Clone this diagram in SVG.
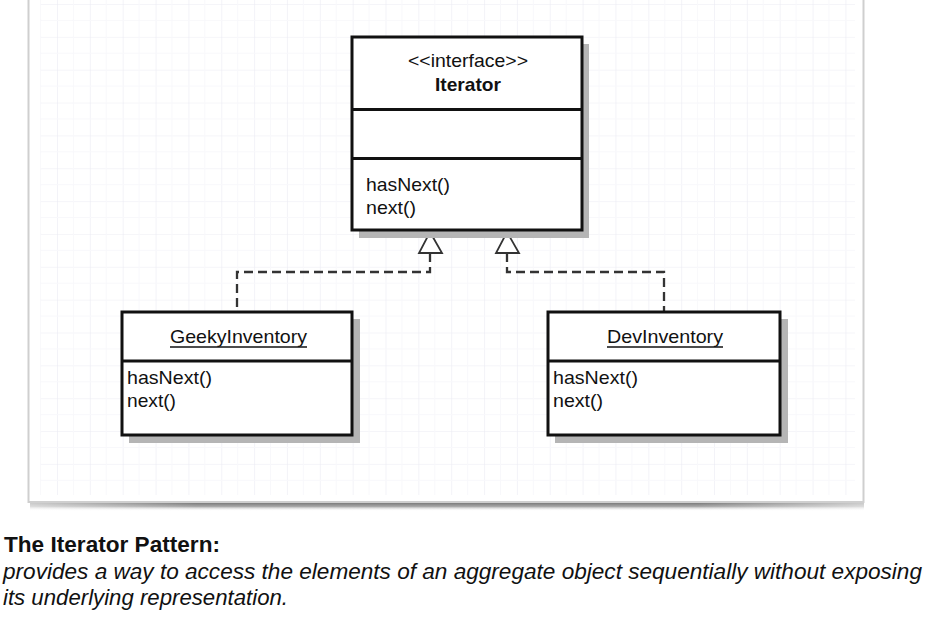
<svg xmlns="http://www.w3.org/2000/svg" width="932" height="624" viewBox="0 0 932 624">
  <defs>
    <style>
      .t { font-family: "Liberation Sans", Arial, sans-serif; font-size: 18.5px; fill: #111; }
      .b { font-weight: bold; }
      .box { fill: #fff; stroke: #111; stroke-width: 3; }
      .div { stroke: #111; stroke-width: 3; }
      .shadow { fill: #b5b5b5; }
      .dash { fill: none; stroke: #333; stroke-width: 2.3; stroke-dasharray: 9 5; }
      .tri { fill: #fff; stroke: #333; stroke-width: 1.8; stroke-linejoin: miter; }
      .cap { font-family: "Liberation Sans", Arial, sans-serif; font-size: 21.5px; fill: #111; }
    </style>
    <pattern id="grid" x="57" y="4" width="32.85" height="32.85" patternUnits="userSpaceOnUse">
      <path d="M0 0 V32.85 M0 0 H32.85" fill="none" stroke="#ececf3" stroke-width="1.2"/>
      <path d="M16.4 0 V32.85 M0 16.4 H32.85" fill="none" stroke="#f8f8fb" stroke-width="1"/>
    </pattern>
    <linearGradient id="sh" x1="0" y1="0" x2="0" y2="1">
      <stop offset="0" stop-color="#6f6f6f"/>
      <stop offset="0.5" stop-color="#a8a8a8"/>
      <stop offset="1" stop-color="#ffffff" stop-opacity="0"/>
    </linearGradient>
    <linearGradient id="shh" x1="0" y1="0" x2="1" y2="0">
      <stop offset="0" stop-color="#fff" stop-opacity="0.6"/>
      <stop offset="0.2" stop-color="#fff" stop-opacity="0"/>
      <stop offset="0.8" stop-color="#fff" stop-opacity="0"/>
      <stop offset="1" stop-color="#fff" stop-opacity="0.6"/>
    </linearGradient>
  </defs>

  <rect x="0" y="0" width="932" height="624" fill="#fff"/>

  <!-- panel -->
  <g id="panel">
    <rect x="30" y="502" width="834" height="9" fill="url(#sh)"/>
    <rect x="30" y="502" width="834" height="9" fill="url(#shh)"/>
    <rect x="28.5" y="-5" width="835" height="507" fill="#fff" stroke="#cfcfcf" stroke-width="2"/>
    <rect x="40" y="0" width="815" height="495" fill="url(#grid)"/>
  </g>

  <!-- connectors -->
  <g id="connectors">
    <path class="dash" d="M430 253 V272 H237 V311"/>
    <path class="dash" d="M507 253 V272 H664 V311"/>
    <polygon class="tri" points="430,232 442,253 419,253"/>
    <polygon class="tri" points="507,232 519,253 496,253"/>
  </g>

  <!-- Iterator -->
  <g id="iterator">
    <rect class="shadow" x="359" y="44" width="230" height="194"/>
    <rect class="box" x="352" y="37" width="230" height="193"/>
    <line class="div" x1="352" y1="109.5" x2="582" y2="109.5"/>
    <line class="div" x1="352" y1="158.5" x2="582" y2="158.5"/>
    <text class="t" x="468" y="67" text-anchor="middle" textLength="120" lengthAdjust="spacingAndGlyphs">&lt;&lt;interface&gt;&gt;</text>
    <text class="t b" x="468" y="91" text-anchor="middle" textLength="66" lengthAdjust="spacingAndGlyphs">Iterator</text>
    <text class="t" x="366" y="191" textLength="84" lengthAdjust="spacingAndGlyphs">hasNext()</text>
    <text class="t" x="366" y="214" textLength="50" lengthAdjust="spacingAndGlyphs">next()</text>
  </g>

  <!-- GeekyInventory -->
  <g id="geeky">
    <rect class="shadow" x="129" y="319" width="231" height="124"/>
    <rect class="box" x="122" y="312" width="230" height="123"/>
    <line class="div" x1="122" y1="361" x2="352" y2="361"/>
    <text class="t" x="170" y="343" textLength="137" lengthAdjust="spacingAndGlyphs">GeekyInventory</text>
    <line x1="170" y1="347" x2="307" y2="347" stroke="#111" stroke-width="1.3"/>
    <text class="t" x="127" y="384" textLength="85" lengthAdjust="spacingAndGlyphs">hasNext()</text>
    <text class="t" x="127" y="407" textLength="49" lengthAdjust="spacingAndGlyphs">next()</text>
  </g>

  <!-- DevInventory -->
  <g id="dev">
    <rect class="shadow" x="555" y="319" width="233" height="124"/>
    <rect class="box" x="548" y="312" width="232" height="123"/>
    <line class="div" x1="548" y1="361" x2="780" y2="361"/>
    <text class="t" x="607" y="343" textLength="116" lengthAdjust="spacingAndGlyphs">DevInventory</text>
    <line x1="607" y1="347" x2="723" y2="347" stroke="#111" stroke-width="1.3"/>
    <text class="t" x="553" y="384" textLength="85" lengthAdjust="spacingAndGlyphs">hasNext()</text>
    <text class="t" x="553" y="407" textLength="50" lengthAdjust="spacingAndGlyphs">next()</text>
  </g>

  <!-- caption -->
  <g id="caption">
    <text class="cap b" x="4" y="552" textLength="216" lengthAdjust="spacingAndGlyphs">The Iterator Pattern:</text>
    <text class="cap" x="3" y="578.5" font-style="italic" textLength="919" lengthAdjust="spacingAndGlyphs">provides a way to access the elements of an aggregate object sequentially without exposing</text>
    <text class="cap" x="3" y="604.5" font-style="italic" textLength="285" lengthAdjust="spacingAndGlyphs">its underlying representation.</text>
  </g>
</svg>
